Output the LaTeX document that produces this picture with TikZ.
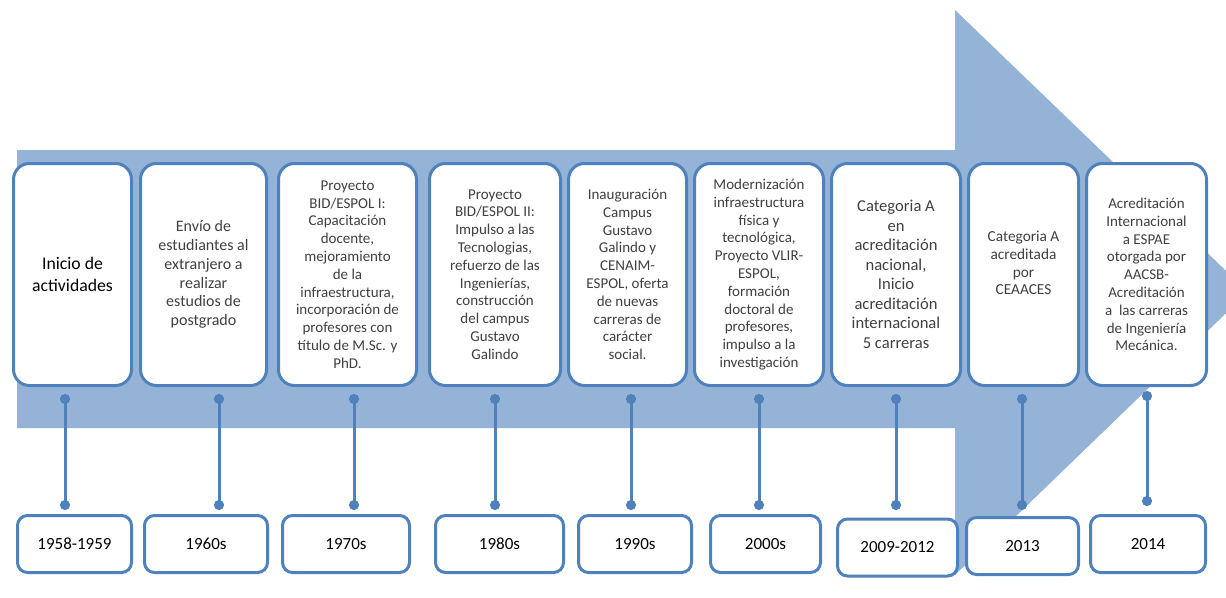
\documentclass[tikz,border=0pt]{standalone}
\usepackage{fontspec}
\setmainfont{Carlito}
\usetikzlibrary{positioning}
\usetikzlibrary{arrows.meta}
\definecolor{arrowColor}{RGB}{149,179,215}
\definecolor{boxColor}{RGB}{79,129,189}
\definecolor{textColor}{RGB}{64,64,64}

\begin{document}
\begin{tikzpicture}[x=1pt,y=-1pt]

          \tikzstyle{eventBox} = [draw=boxColor, line width=3pt, fill=white, rounded corners=16pt, minimum height=222pt, inner sep=0pt, align=center, text=textColor, font=\fontsize{15}{17.8}\selectfont];
          \tikzstyle{yearBox} = [draw=boxColor, line width=3pt, fill=white, rounded corners=10pt, minimum height=57pt, inner sep=0pt, text=black, font=\fontsize{17}{20}\selectfont];
          \tikzstyle{pinEdge} = [boxColor, line width=3pt, {Circle[length=10pt]}-{Circle[length=10pt]}];

          \useasboundingbox (0,0) rectangle (1226,597);

          % big arrow behind the boxes
          \fill[arrowColor] (17,150) -- (955,150) -- (955,10) -- (1248,292) -- (955,575) -- (955,428) -- (17,428) -- cycle;

          \node[eventBox, minimum width=118pt, text=black, font=\fontsize{17.7}{22}\selectfont] (e1) at (72.5,274.5) {Inicio de\\actividades};
          \node[eventBox, minimum width=126pt, font=\fontsize{16}{18.7}\selectfont] (e2) at (203.5,274.5) {Envío de\\estudiantes al\\extranjero a\\realizar\\estudios de\\postgrado};
          \node[eventBox, minimum width=138pt] (e3) at (347.5,274.5) {Proyecto\\BID/ESPOL I:\\Capacitación\\docente,\\mejoramiento\\de la\\infraestructura,\\incorporación de\\profesores con\\título de M.Sc. y\\PhD.};
          \node[eventBox, minimum width=131pt] (e4) at (495,274.5) {Proyecto\\BID/ESPOL II:\\Impulso a las\\Tecnologias,\\refuerzo de las\\Ingenierías,\\construcción\\del campus\\Gustavo\\Galindo};
          \node[eventBox, minimum width=118pt] (e5) at (627.5,274.5) {Inauguración\\Campus\\Gustavo\\Galindo y\\CENAIM-\\ESPOL, oferta\\de nuevas\\carreras de\\carácter\\social.};
          \node[eventBox, minimum width=129pt] (e6) at (759,274.5) {Modernización\\infraestructura\\física y\\tecnológica,\\Proyecto VLIR-\\ESPOL,\\formación\\doctoral de\\profesores,\\impulso a la\\investigación};
          \node[eventBox, minimum width=129pt, font=\fontsize{16.6}{19.5}\selectfont] (e7) at (896,274.5) {Categoria A\\en\\acreditación\\nacional,\\Inicio\\acreditación\\internacional\\5 carreras};
          \node[eventBox, minimum width=110pt, font=\fontsize{15.3}{17.8}\selectfont] (e8) at (1023.5,274.5) {Categoria A\\acreditada\\por\\CEAACES\\\strut};
          \node[eventBox, minimum width=120pt] (e9) at (1146.5,274.5) {Acreditación\\Internacional\\a ESPAE\\otorgada por\\AACSB-\\Acreditación\\a\ \ las carreras\\de Ingeniería\\Mecánica.};

          \node[yearBox, minimum width=114pt] (y1) at (74.5,544) {1958-1959};
          \node[yearBox, minimum width=123pt] (y2) at (206,544) {1960s};
          \node[yearBox, minimum width=127pt] (y3) at (346,544) {1970s};
          \node[yearBox, minimum width=128pt] (y4) at (499.5,544) {1980s};
          \node[yearBox, minimum width=113pt] (y5) at (635,544) {1990s};
          \node[yearBox, minimum width=110pt] (y6) at (765.5,544) {2000s};
          \node[yearBox, minimum width=120pt] (y7) at (897.5,547.5) {2009-2012};
          \node[yearBox, minimum width=112pt] (y8) at (1022.5,546) {2013};
          \node[yearBox, minimum width=115pt] (y9) at (1148,544) {2014};

          % pin ends
          \coordinate (t1) at (65,394);   \coordinate (b1) at (65,510);
          \coordinate (t2) at (219,394);  \coordinate (b2) at (219,510);
          \coordinate (t3) at (354,394);  \coordinate (b3) at (354,510);
          \coordinate (t4) at (495,394);  \coordinate (b4) at (495,510);
          \coordinate (t5) at (631,394);  \coordinate (b5) at (631,510);
          \coordinate (t6) at (759,394);  \coordinate (b6) at (759,510);
          \coordinate (t7) at (896,394);  \coordinate (b7) at (896,510);
          \coordinate (t8) at (1022,394); \coordinate (b8) at (1022,510);
          \coordinate (t9) at (1147,391); \coordinate (b9) at (1147,506);

          \draw[pinEdge] (t1) -- (b1);
          \draw[pinEdge] (t2) -- (b2);
          \draw[pinEdge] (t3) -- (b3);
          \draw[pinEdge] (t4) -- (b4);
          \draw[pinEdge] (t5) -- (b5);
          \draw[pinEdge] (t6) -- (b6);
          \draw[pinEdge] (t7) -- (b7);
          \draw[pinEdge] (t8) -- (b8);
          \draw[pinEdge] (t9) -- (b9);
        \end{tikzpicture}
\end{document}
